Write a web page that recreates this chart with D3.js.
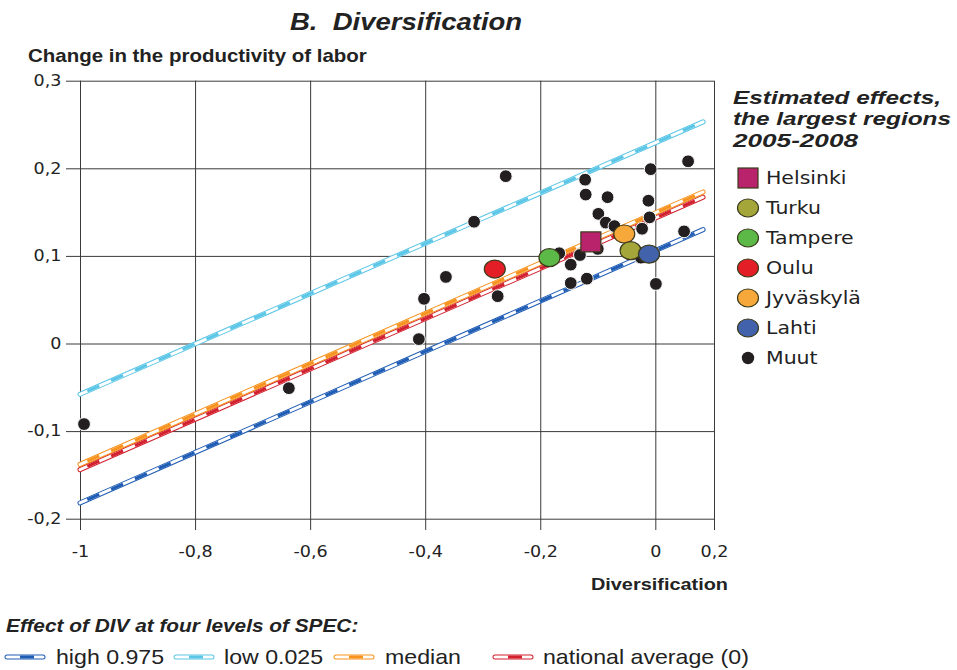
<!DOCTYPE html>
<html>
<head>
<meta charset="utf-8">
<script src="https://cdn.jsdelivr.net/npm/d3@7"></script>
<style>
	body { margin: 0; background: #fff; }
	text { fill: #222; }
</style>
</head>
<body>
<div class="chart"></div>
<script>
// Data

var regions = ["Helsinki", "Turku", "Tampere", "Oulu", "Jyväskylä", "Lahti"];
var regionX = [-0.112, -0.043, -0.184, -0.279, -0.054, -0.011];
var regionY = [0.116, 0.106, 0.098, 0.085, 0.125, 0.102];
var regionColors = ["#b8236c", "#a4a63a", "#5cb947", "#e31e26", "#f7a83a", "#4262ab"];
var drawOrder = [3, 2, 0, 4, 1, 5];

// "Muut" = other regions
var muutX = [-0.993, -0.637, -0.411, -0.402, -0.364, -0.315, -0.274, -0.260, -0.122, -0.121,
	-0.083, -0.008, 0.057, -0.012, -0.099, -0.086, -0.010, -0.071, -0.023, 0.050,
	-0.131, -0.167, -0.147, -0.147, -0.119, 0.001, -0.025, -0.100];
var muutY = [-0.092, -0.051, 0.005, 0.051, 0.076, 0.139, 0.054, 0.191, 0.187, 0.170,
	0.167, 0.199, 0.208, 0.163, 0.148, 0.138, 0.144, 0.134, 0.131, 0.128,
	0.101, 0.103, 0.090, 0.069, 0.074, 0.068, 0.098, 0.108];

// Effect lines, y at lineX[0] and lineX[1]
var levels = ["high 0.975", "low 0.025", "median", "national average (0)"];
var lineX = [-1, 0.083];
var lineStartY = [-0.182, -0.058, -0.138, -0.144];
var lineEndY = [0.130, 0.253, 0.173, 0.167];
var levelColors = ["#1f5cb4", "#5cc6e6", "#f7931e", "#d2202f"];
var lineOrder = [1, 0, 3, 2];

var xTicks = [-1, -0.8, -0.6, -0.4, -0.2, 0, 0.102];
var xTickLabels = ["-1", "-0,8", "-0,6", "-0,4", "-0,2", "0", "0,2"];
var yTicks = [-0.2, -0.1, 0, 0.1, 0.2, 0.3];
var yTickLabels = ["-0,2", "-0,1", "0", "0,1", "0,2", "0,3"];

var legendTitle = ["Estimated effects,", "the largest regions", "2005-2008"];

// Layout

var outerW = 957,
	outerH = 670;
var SX = 1.17; // the original is stretched sideways

var svg = d3.select(".chart")
	.append("svg")
	.attr("width", outerW)
	.attr("height", outerH);

var x = d3.scaleLinear().domain([-1, 0.102]).range([80, 714]);
var y = d3.scaleLinear().domain([-0.2, 0.3]).range([518.7, 80.7]);

function stretch(sel) {
	sel.each(function() {
		var t = d3.select(this);
		var tx = +t.attr("x") || 0;
		t.attr("x", tx / SX)
			.attr("transform", (t.attr("transform") || "") + " scale(" + SX + ",1)");
	});
	return sel;
}

function addText(px, py, str, font, size, weight, style, anchor) {
	return stretch(svg.append("text")
		.attr("x", px)
		.attr("y", py)
		.style("font-family", font)
		.style("font-size", size + "px")
		.style("font-weight", weight || "normal")
		.style("font-style", style || "normal")
		.style("text-anchor", anchor || "start")
		.style("white-space", "pre")
		.text(str));
}

// Axes + grid

var yAxis = svg.append("g")
	.attr("transform", "translate(66,0)")
	.call(d3.axisLeft(y)
		.tickValues(yTicks)
		.tickSize(-(714 - 66))
		.tickPadding(4.6)
		.tickFormat(function(d, i) { return yTickLabels[i]; }));

var xAxis = svg.append("g")
	.attr("transform", "translate(0,530)")
	.call(d3.axisBottom(x)
		.tickValues(xTicks)
		.tickSize(-(530 - 80.7))
		.tickPadding(16)
		.tickFormat(function(d, i) { return xTickLabels[i]; }));

[yAxis, xAxis].forEach(function(ax) {
	ax.select(".domain").remove();
	ax.selectAll(".tick line").attr("stroke", "#3a3a3a").attr("stroke-width", 1);
	stretch(ax.selectAll(".tick text")
		.style("font-family", "DejaVu Sans")
		.style("font-size", "15px")
		.attr("fill", "#333"));
});

// Effect lines (outlined tube with dashed core)

function tube(g, x1, y1, x2, y2, color) {
	g.append("line")
		.attr("x1", x1).attr("y1", y1).attr("x2", x2).attr("y2", y2)
		.attr("stroke", color)
		.attr("stroke-width", 5)
		.attr("stroke-linecap", "round");
	g.append("line")
		.attr("x1", x1).attr("y1", y1).attr("x2", x2).attr("y2", y2)
		.attr("stroke", "white")
		.attr("stroke-width", 3)
		.attr("stroke-linecap", "round");
}

var lines = svg.append("g").attr("class", "effect_lines");
lineOrder.forEach(function(i) {
	var g = lines.append("g");
	tube(g, x(lineX[0]), y(lineStartY[i]), x(lineX[1]), y(lineEndY[i]), levelColors[i]);
	g.append("line")
		.attr("x1", x(lineX[0])).attr("y1", y(lineStartY[i]))
		.attr("x2", x(lineX[1])).attr("y2", y(lineEndY[i]))
		.attr("stroke", levelColors[i])
		.attr("stroke-width", 3)
		.attr("stroke-dasharray", "13,13")
		.attr("stroke-dashoffset", -8);
});

// Points

svg.append("g")
	.selectAll("circle")
	.data(muutX)
	.join("circle")
	.attr("cx", function(d) { return x(d); })
	.attr("cy", function(d, i) { return y(muutY[i]); })
	.attr("r", 6.4)
	.attr("fill", "#231f20")
	.attr("stroke", "white")
	.attr("stroke-width", 1);

function regionMarker(g, i, cx, cy) {
	if (i === 0) {
		g.append("rect")
			.attr("x", cx - 10).attr("y", cy - 10)
			.attr("width", 20).attr("height", 20)
			.attr("fill", regionColors[i])
			.attr("stroke", "#3b3a1c")
			.attr("stroke-width", 1.2);
	} else {
		g.append("ellipse")
			.attr("cx", cx).attr("cy", cy)
			.attr("rx", 10.5).attr("ry", 9)
			.attr("fill", regionColors[i])
			.attr("stroke", "#3b3a1c")
			.attr("stroke-width", 1.2);
	}
}

var regionG = svg.append("g");
drawOrder.forEach(function(i) {
	regionMarker(regionG, i, x(regionX[i]), y(regionY[i]));
});

// Titles

addText(290, 30, "B.  Diversification", "Liberation Sans", 23.5, "bold", "italic");
addText(28, 62.5, "Change in the productivity of labor", "Liberation Sans", 17.5, "bold");
addText(728, 590, "Diversification", "Liberation Sans", 17, "bold", "normal", "end");

// Right legend

var titleWidths = [208, 218, 125];
legendTitle.forEach(function(s, i) {
	addText(733, 104 + i * 21.5, s, "Liberation Sans", 19, "bold", "italic")
		.attr("textLength", titleWidths[i] / SX)
		.attr("lengthAdjust", "spacingAndGlyphs");
});

var legendG = svg.append("g");
regions.forEach(function(name, i) {
	var cy = 178 + i * 30;
	regionMarker(legendG, i, 748, cy);
	addText(766, cy + 6.5, name, "DejaVu Sans", 17.5);
});
legendG.append("circle")
	.attr("cx", 748)
	.attr("cy", 178 + 6 * 30)
	.attr("r", 6.2)
	.attr("fill", "#231f20");
addText(766, 178 + 6 * 30 + 6.5, "Muut", "DejaVu Sans", 17.5);

// Bottom legend

addText(6, 632, "Effect of DIV at four levels of SPEC:", "Liberation Sans", 17.8, "bold", "italic");

var swatchX = [5, 174, 334, 493];
var labelX = [56, 224, 385, 543];
var bottomG = svg.append("g");
levels.forEach(function(name, i) {
	var g = bottomG.append("g");
	tube(g, swatchX[i] + 2, 657, swatchX[i] + 38, 657, levelColors[i]);
	g.append("line")
		.attr("x1", swatchX[i] + 15).attr("y1", 657)
		.attr("x2", swatchX[i] + 29).attr("y2", 657)
		.attr("stroke", levelColors[i])
		.attr("stroke-width", 3);
	addText(labelX[i], 664, name, "Liberation Sans", 19.8);
});
</script>
</body>
</html>
